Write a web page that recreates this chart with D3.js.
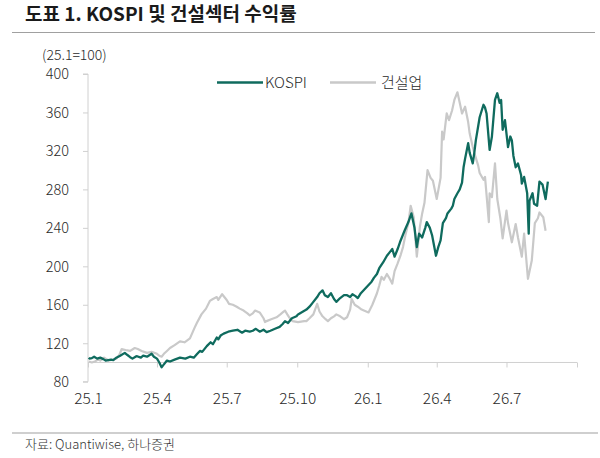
<!DOCTYPE html>
<html>
<head>
<meta charset="utf-8">
<script src="https://cdn.jsdelivr.net/npm/d3@7"></script>
<style>
  html, body { margin: 0; padding: 0; background: #fff; }
  svg text { font-family: "Noto Sans CJK KR", "Noto Sans", sans-serif; }
</style>
</head>
<body>
<svg id="chart" width="600" height="458"></svg>
<script>
// ---- data (25.1 = 100) ----
const kospiDates = ["2025-01-02","2025-01-03","2025-01-06","2025-01-09","2025-01-13","2025-01-17","2025-01-21","2025-01-24","2025-01-31","2025-02-03","2025-02-07","2025-02-12","2025-02-18","2025-02-21","2025-02-25","2025-02-28","2025-03-04","2025-03-06","2025-03-11","2025-03-14","2025-03-19","2025-03-25","2025-03-28","2025-04-01","2025-04-04","2025-04-07","2025-04-09","2025-04-14","2025-04-18","2025-04-24","2025-05-01","2025-05-08","2025-05-14","2025-05-19","2025-05-23","2025-05-27","2025-05-30","2025-06-05","2025-06-10","2025-06-13","2025-06-18","2025-06-20","2025-06-23","2025-06-27","2025-07-03","2025-07-09","2025-07-15","2025-07-21","2025-07-25","2025-07-31","2025-08-04","2025-08-08","2025-08-13","2025-08-18","2025-08-22","2025-08-27","2025-09-02","2025-09-08","2025-09-12","2025-09-15","2025-09-19","2025-09-24","2025-09-30","2025-10-02","2025-10-13","2025-10-17","2025-10-21","2025-10-27","2025-10-30","2025-11-03","2025-11-06","2025-11-10","2025-11-14","2025-11-18","2025-11-21","2025-11-26","2025-12-01","2025-12-05","2025-12-09","2025-12-12","2025-12-16","2025-12-19","2025-12-23","2025-12-30","2026-01-06","2026-01-09","2026-01-13","2026-01-16","2026-01-21","2026-01-26","2026-01-29","2026-02-02","2026-02-05","2026-02-09","2026-02-12","2026-02-18","2026-02-23","2026-02-27","2026-03-03","2026-03-06","2026-03-09","2026-03-13","2026-03-17","2026-03-19","2026-03-23","2026-03-26","2026-03-31","2026-04-03","2026-04-06","2026-04-09","2026-04-13","2026-04-15","2026-04-20","2026-04-22","2026-04-24","2026-04-28","2026-05-01","2026-05-04","2026-05-06","2026-05-08","2026-05-12","2026-05-14","2026-05-18","2026-05-20","2026-05-22","2026-05-27","2026-06-01","2026-06-03","2026-06-05","2026-06-09","2026-06-12","2026-06-16","2026-06-19","2026-06-22","2026-06-24","2026-06-26","2026-06-29","2026-07-01","2026-07-03","2026-07-06","2026-07-08","2026-07-10","2026-07-13","2026-07-16","2026-07-20","2026-07-21","2026-07-24","2026-07-28","2026-07-30","2026-07-31","2026-08-04","2026-08-06","2026-08-10","2026-08-13","2026-08-17","2026-08-21","2026-08-24"];
const kospiValues = [105,104,104.5,106,104,105,103.5,102,103,102.5,105,107,110,108,105.5,104,106,106.5,105,107,106,109,106,104,100,95,97,102,101,103,105,104,106,105,108.5,112,111,117,121,119,126,124,128,130,132,133,134,131,133,132,133,135,132,134,131.5,133,135,137,140,143,141,146,148,150,155,158,162,168,172,175,170,168,172,166,163,167,170,170,168,171,169,167,172,178,184,188,192,198,204,211,214,218,210,218,225,237,246,255,240,220,234,230,240,246,240,232,211,220,227,245,250,255,260,263,270,276,280,287,303,312,328,318,307,318,331,355,368,365,359,321,335,373,380,370,373,342,352,338,324,335,331,315,303,307,295,286,293,276,234,268,276,265,263,288,285,270,288];

const constDates = ["2025-01-02","2025-01-06","2025-01-10","2025-01-14","2025-01-17","2025-01-22","2025-01-24","2025-01-28","2025-02-03","2025-02-07","2025-02-11","2025-02-14","2025-02-19","2025-02-25","2025-03-03","2025-03-07","2025-03-12","2025-03-19","2025-03-25","2025-04-01","2025-04-04","2025-04-07","2025-04-10","2025-04-14","2025-04-18","2025-04-24","2025-05-01","2025-05-07","2025-05-14","2025-05-20","2025-05-23","2025-05-29","2025-06-04","2025-06-09","2025-06-13","2025-06-18","2025-06-20","2025-06-25","2025-07-01","2025-07-04","2025-07-09","2025-07-14","2025-07-18","2025-07-23","2025-07-28","2025-07-31","2025-08-04","2025-08-07","2025-08-13","2025-08-18","2025-08-20","2025-08-22","2025-08-28","2025-09-04","2025-09-09","2025-09-12","2025-09-15","2025-09-18","2025-09-22","2025-09-25","2025-10-02","2025-10-10","2025-10-13","2025-10-17","2025-10-22","2025-10-27","2025-10-30","2025-11-03","2025-11-07","2025-11-10","2025-11-14","2025-11-18","2025-11-21","2025-11-26","2025-12-01","2025-12-05","2025-12-09","2025-12-11","2025-12-15","2025-12-19","2025-12-24","2026-01-02","2026-01-07","2026-01-13","2026-01-16","2026-01-19","2026-01-22","2026-01-26","2026-01-29","2026-02-02","2026-02-05","2026-02-09","2026-02-13","2026-02-16","2026-02-19","2026-02-23","2026-02-26","2026-03-02","2026-03-04","2026-03-06","2026-03-10","2026-03-13","2026-03-16","2026-03-20","2026-03-24","2026-03-27","2026-04-01","2026-04-06","2026-04-08","2026-04-10","2026-04-14","2026-04-17","2026-04-21","2026-04-24","2026-04-28","2026-05-01","2026-05-04","2026-05-08","2026-05-12","2026-05-14","2026-05-18","2026-05-20","2026-05-25","2026-05-27","2026-06-01","2026-06-03","2026-06-08","2026-06-09","2026-06-12","2026-06-16","2026-06-19","2026-06-23","2026-06-26","2026-07-01","2026-07-03","2026-07-08","2026-07-13","2026-07-16","2026-07-21","2026-07-24","2026-07-29","2026-08-03","2026-08-07","2026-08-11","2026-08-13","2026-08-18","2026-08-21"];
const constValues = [101,100,101,103,102,105,104,102,103,104,108,114,113,112,115,114,112,110,111,109,107,106,109,112,115,118,122,121,125,136,141,150,156,164,166,168,165,171,165,161,160,158,156,154,151,149,151,154,152,146,142,143,145,147,150,152,154,150,145,143,142,143,143,146,150,161,153,148,145,143,146,148,150,148,145,147,155,166,160,158,155,152,160,172,180,189,186,192,188,182,195,203,212,220,232,245,263,251,230,210,241,255,266,300,292,289,270,292,340,332,359,352,362,373,381,370,359,366,350,338,324,318,305,297,290,293,246,276,272,307,270,250,229,258,245,225,244,230,210,234,187,206,245,250,256,251,237];

const yTicks = [80,120,160,200,240,280,320,360,400];
const xTickDates = ["2025-01-01","2025-04-01","2025-07-01","2025-10-01","2026-01-01","2026-04-01","2026-07-01","2026-10-01"];
const xTickLabels = ["25.1","25.4","25.7","25.10","26.1","26.4","26.7",""];
const seriesNames = ["KOSPI","건설업"];
const seriesColors = ["#0f6b5e","#c9c9c9"];

// ---- drawing ----
(function () {
const parse = d3.timeParse("%Y-%m-%d");
const svg = d3.select("#chart");
const fontFam = "'Noto Sans CJK KR', 'Noto Sans', sans-serif";
const textCol = "#2a2a2a";

const plotL = 88, plotR = 577, plotT = 74, plotB = 381.7;
const x = d3.scaleTime().domain([parse("2025-01-01"), parse("2026-10-01")]).range([plotL, plotR]);
const y = d3.scaleLinear().domain([80, 400]).range([plotB, plotT]);

// title
svg.append("text").attr("x", 25).attr("y", 21).attr("font-size", 19).attr("font-weight", 700)
  .attr("fill", "#1a1a1a").text("도표 1. KOSPI 및 건설섹터 수익률");
svg.append("line").attr("x1", 12).attr("x2", 595).attr("y1", 32.5).attr("y2", 32.5)
  .attr("stroke", "#a0a0a0").attr("stroke-width", 1.2);

// unit
svg.append("text").attr("x", 42).attr("y", 60).attr("font-size", 14).attr("font-weight", 300)
  .attr("fill", textCol).text("(25.1=100)");

// y axis
const yAxis = d3.axisLeft(y).tickValues(yTicks).tickSize(5).tickPadding(14).tickFormat(d3.format("d"));
const gy = svg.append("g").attr("transform", `translate(${plotL},0)`).call(yAxis);
gy.select(".domain").attr("stroke", "#d0d0d0").attr("d", `M-5,${y(400)}H0V${y(80)}H-5`);
gy.selectAll(".tick line").attr("stroke", "#d0d0d0");
gy.selectAll(".tick text").attr("font-size", 14.5).attr("font-weight", 300).attr("fill", textCol)
  .attr("font-family", fontFam).attr("dy", "0.34em");

// x axis at the 100 baseline
const xAxis = d3.axisBottom(x).tickValues(xTickDates.map(parse)).tickSize(5)
  .tickFormat((d, i) => xTickLabels[i]);
const gx = svg.append("g").attr("transform", `translate(0,${y(100)})`).call(xAxis);
gx.select(".domain").attr("stroke", "#d0d0d0").attr("d", `M${plotL},0H${plotR}`);
gx.selectAll(".tick line").attr("stroke", "#d0d0d0");
gx.selectAll(".tick text").attr("font-size", 15.5).attr("font-weight", 300).attr("fill", textCol).attr("font-family", fontFam)
  .attr("transform", `translate(0,${y(80) - y(100) + 3})`);

// lines
const line = d3.line().x(d => x(d[0])).y(d => y(d[1]));
const constData = constDates.map((d, i) => [parse(d), constValues[i]]);
const kospiData = kospiDates.map((d, i) => [parse(d), kospiValues[i]]);
svg.append("path").datum(constData).attr("d", line).attr("fill", "none")
  .attr("stroke", seriesColors[1]).attr("stroke-width", 2.2).attr("stroke-linejoin", "round");
svg.append("path").datum(kospiData).attr("d", line).attr("fill", "none")
  .attr("stroke", seriesColors[0]).attr("stroke-width", 2.3).attr("stroke-linejoin", "round");

// legend
const legendItems = [{lx: 217, tx: 265}, {lx: 330, tx: 381}];
legendItems.forEach((it, i) => {
  svg.append("line").attr("x1", it.lx).attr("x2", it.lx + 46).attr("y1", 82.5).attr("y2", 82.5)
    .attr("stroke", seriesColors[i]).attr("stroke-width", 2.6);
  svg.append("text").attr("x", it.tx).attr("y", 88).attr("font-size", 15).attr("font-weight", 300)
    .attr("fill", textCol).text(seriesNames[i]);
});

// footer
svg.append("line").attr("x1", 12).attr("x2", 598).attr("y1", 433).attr("y2", 433)
  .attr("stroke", "#a0a0a0").attr("stroke-width", 1.2);
svg.append("text").attr("x", 25).attr("y", 449).attr("font-size", 13).attr("font-weight", 300)
  .attr("fill", "#333").text("자료: Quantiwise, 하나증권");
})();
</script>
</body>
</html>
